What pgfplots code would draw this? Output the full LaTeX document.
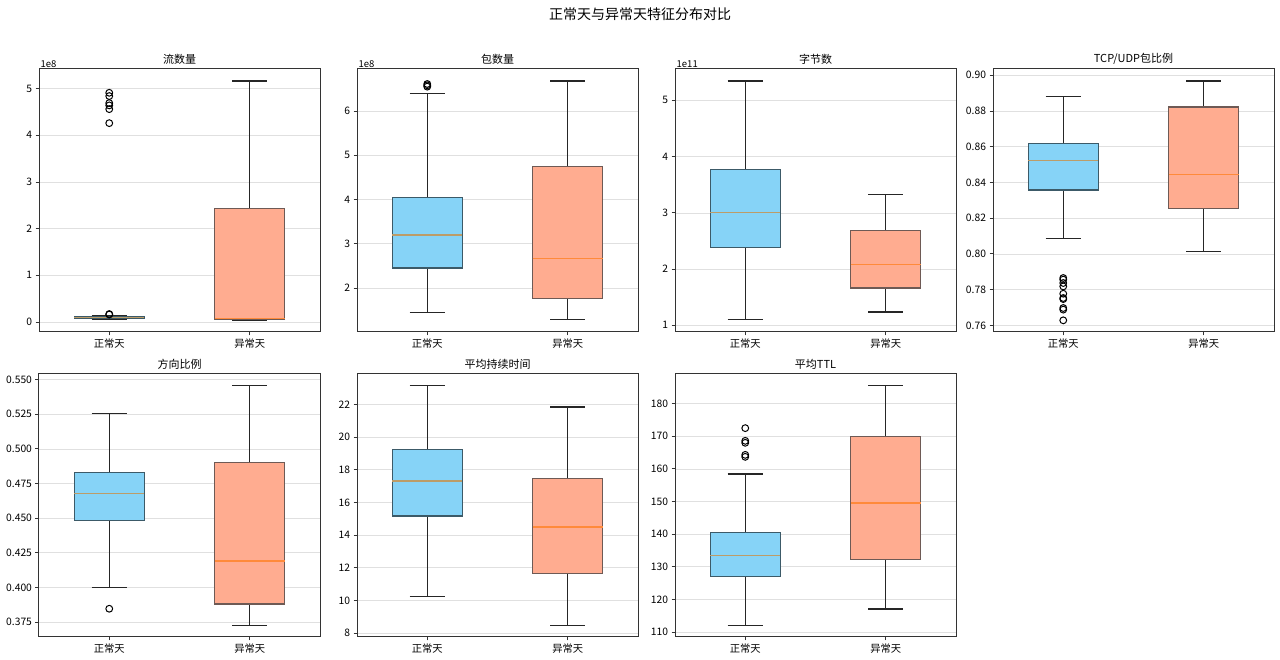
\documentclass[border=0pt]{standalone}
\usepackage{fontspec}
\setmainfont{Noto Sans CJK SC}
\usepackage{pgfplots}
\pgfplotsset{compat=1.18}
\usepgfplotslibrary{statistics}

\definecolor{boxblue}{HTML}{86D3F7}
\definecolor{boxblueedge}{HTML}{3C5A68}
\definecolor{boxsalmon}{HTML}{FFAC90}
\definecolor{boxsalmonedge}{HTML}{6E5A55}
\definecolor{mednormal}{HTML}{BC9C68}
\definecolor{medabn}{HTML}{FF8A3A}

\pgfplotsset{
  panel/.style={
    scale only axis, width=281pt, height=263pt, anchor=south west,
    xmin=0.5, xmax=2.5, xtick={1,2}, xticklabels={正常天,异常天},
    tick align=outside, tick pos=left, major tick length=3.5pt,
    ymajorgrids, grid style={black!12, line width=0.6pt},
    axis line style={black!80, line width=1pt},
    tick style={black!80, line width=0.9pt},
    ticklabel style={font=\fontsize{10.3}{12}\selectfont},
    title style={font=\fontsize{11}{13}\selectfont, at={(0.5,1)}, anchor=south, yshift=-5pt},
    /pgf/number format/assume math mode=true,
    scaled y ticks=false,
    boxplot/draw direction=y,
    boxplot/box extend=0.5,
    boxplot/whisker extend=0.25,
  },
  % exponent note above the top left corner, as matplotlib's offset text
  expo/.style={extra description/.code={
    \node[anchor=south west, inner sep=1.5pt, font=\fontsize{9.5}{10}\selectfont]
      at (rel axis cs:0,1) {#1};}},
  normal/.style={
    boxplot/every box/.style={draw=boxblueedge, fill=boxblue, line width=1.2pt},
    boxplot/every median/.style={draw=mednormal, line width=1.5pt},
    boxplot/every whisker/.style={draw=black!85, line width=1.3pt},
    mark=o, mark size=3.4pt, mark options={draw=black, line width=1pt},
  },
  abnormal/.style={
    boxplot/every box/.style={draw=boxsalmonedge, fill=boxsalmon, line width=1.2pt},
    boxplot/every median/.style={draw=medabn, line width=1.5pt},
    boxplot/every whisker/.style={draw=black!85, line width=1.3pt},
    mark=o, mark size=3.4pt, mark options={draw=black, line width=1pt},
  },
}

\begin{document}
\begin{tikzpicture}
\useasboundingbox (0,0) rectangle (1280pt,660pt);
\node[font=\fontsize{14}{16}\selectfont] at (640pt,646pt) {正常天与异常天特征分布对比};

% 流数量 (x 1e8)
\begin{axis}[panel, at={(39pt,328pt)}, title={流数量}, expo={1e8},
  ymin=-0.214, ymax=5.42, ytick={0,1,2,3,4,5}]
\addplot[normal, boxplot prepared={draw position=1, lower whisker=0.05,
  lower quartile=0.07, median=0.10, upper quartile=0.12, upper whisker=0.145}]
  table[row sep=\\, y index=0] {v\\ 0.16\\ 0.17\\ 4.26\\ 4.56\\ 4.64\\ 4.69\\ 4.84\\ 4.91\\};
\addplot[abnormal, boxplot prepared={draw position=2, lower whisker=0.045,
  lower quartile=0.065, median=0.08, upper quartile=2.436, upper whisker=5.164}]
  coordinates {};
\end{axis}

% 包数量 (x 1e8)
\begin{axis}[panel, at={(357pt,328pt)}, title={包数量}, expo={1e8},
  ymin=1.006, ymax=6.949, ytick={2,3,4,5,6}]
\addplot[normal, boxplot prepared={draw position=1, lower whisker=1.45,
  lower quartile=2.452, median=3.198, upper quartile=4.049, upper whisker=6.40}]
  table[row sep=\\, y index=0] {v\\ 6.55\\ 6.58\\ 6.61\\};
\addplot[abnormal, boxplot prepared={draw position=2, lower whisker=1.284,
  lower quartile=1.759, median=2.663, upper quartile=4.75, upper whisker=6.678}]
  coordinates {};
\end{axis}

% 字节数 (x 1e11)
\begin{axis}[panel, at={(675pt,328pt)}, title={字节数}, expo={1e11},
  ymin=0.881, ymax=5.557, ytick={1,2,3,4,5}]
\addplot[normal, boxplot prepared={draw position=1, lower whisker=1.10,
  lower quartile=2.387, median=3.009, upper quartile=3.767, upper whisker=5.344}]
  coordinates {};
\addplot[abnormal, boxplot prepared={draw position=2, lower whisker=1.237,
  lower quartile=1.664, median=2.084, upper quartile=2.683, upper whisker=3.323}]
  coordinates {};
\end{axis}

% TCP/UDP包比例
\begin{axis}[panel, at={(993pt,328pt)}, title={TCP/UDP包比例},
  ymin=0.75627, ymax=0.90355, ytick={0.76,0.78,0.80,0.82,0.84,0.86,0.88,0.90},
  yticklabel style={/pgf/number format/.cd, fixed, fixed zerofill, precision=2}]
\addplot[normal, boxplot prepared={draw position=1, lower whisker=0.8085,
  lower quartile=0.8358, median=0.8522, upper quartile=0.8616, upper whisker=0.8881}]
  table[row sep=\\, y index=0] {v\\ 0.7865\\ 0.7856\\ 0.7837\\ 0.7818\\ 0.7777\\ 0.7753\\ 0.7747\\ 0.7697\\ 0.7688\\ 0.7628\\};
\addplot[abnormal, boxplot prepared={draw position=2, lower whisker=0.8014,
  lower quartile=0.8255, median=0.8444, upper quartile=0.8823, upper whisker=0.8968}]
  coordinates {};
\end{axis}

% 方向比例
\begin{axis}[panel, at={(39pt,23pt)}, title={方向比例},
  ymin=0.3642, ymax=0.5541, ytick={0.375,0.400,0.425,0.450,0.475,0.500,0.525,0.550},
  yticklabel style={/pgf/number format/.cd, fixed, fixed zerofill, precision=3}]
\addplot[normal, boxplot prepared={draw position=1, lower whisker=0.4001,
  lower quartile=0.4483, median=0.4678, upper quartile=0.4827, upper whisker=0.5254}]
  table[row sep=\\, y index=0] {v\\ 0.3846\\};
\addplot[abnormal, boxplot prepared={draw position=2, lower whisker=0.3726,
  lower quartile=0.3880, median=0.4189, upper quartile=0.4900, upper whisker=0.5459}]
  coordinates {};
\end{axis}

% 平均持续时间
\begin{axis}[panel, at={(357pt,23pt)}, title={平均持续时间},
  ymin=7.755, ymax=23.86, ytick={8,10,12,14,16,18,20,22}]
\addplot[normal, boxplot prepared={draw position=1, lower whisker=10.25,
  lower quartile=15.17, median=17.30, upper quartile=19.22, upper whisker=23.14}]
  coordinates {};
\addplot[abnormal, boxplot prepared={draw position=2, lower whisker=8.47,
  lower quartile=11.64, median=14.50, upper quartile=17.44, upper whisker=21.84}]
  coordinates {};
\end{axis}

% 平均TTL
\begin{axis}[panel, at={(675pt,23pt)}, title={平均TTL},
  ymin=108.46, ymax=189.1, ytick={110,120,130,140,150,160,170,180}]
\addplot[normal, boxplot prepared={draw position=1, lower whisker=112.0,
  lower quartile=127.1, median=133.5, upper quartile=140.5, upper whisker=158.4}]
  table[row sep=\\, y index=0] {v\\ 172.5\\ 168.6\\ 168.0\\ 164.3\\ 163.7\\};
\addplot[abnormal, boxplot prepared={draw position=2, lower whisker=117.0,
  lower quartile=132.2, median=149.6, upper quartile=170.0, upper whisker=185.5}]
  coordinates {};
\end{axis}
\end{tikzpicture}
\end{document}
